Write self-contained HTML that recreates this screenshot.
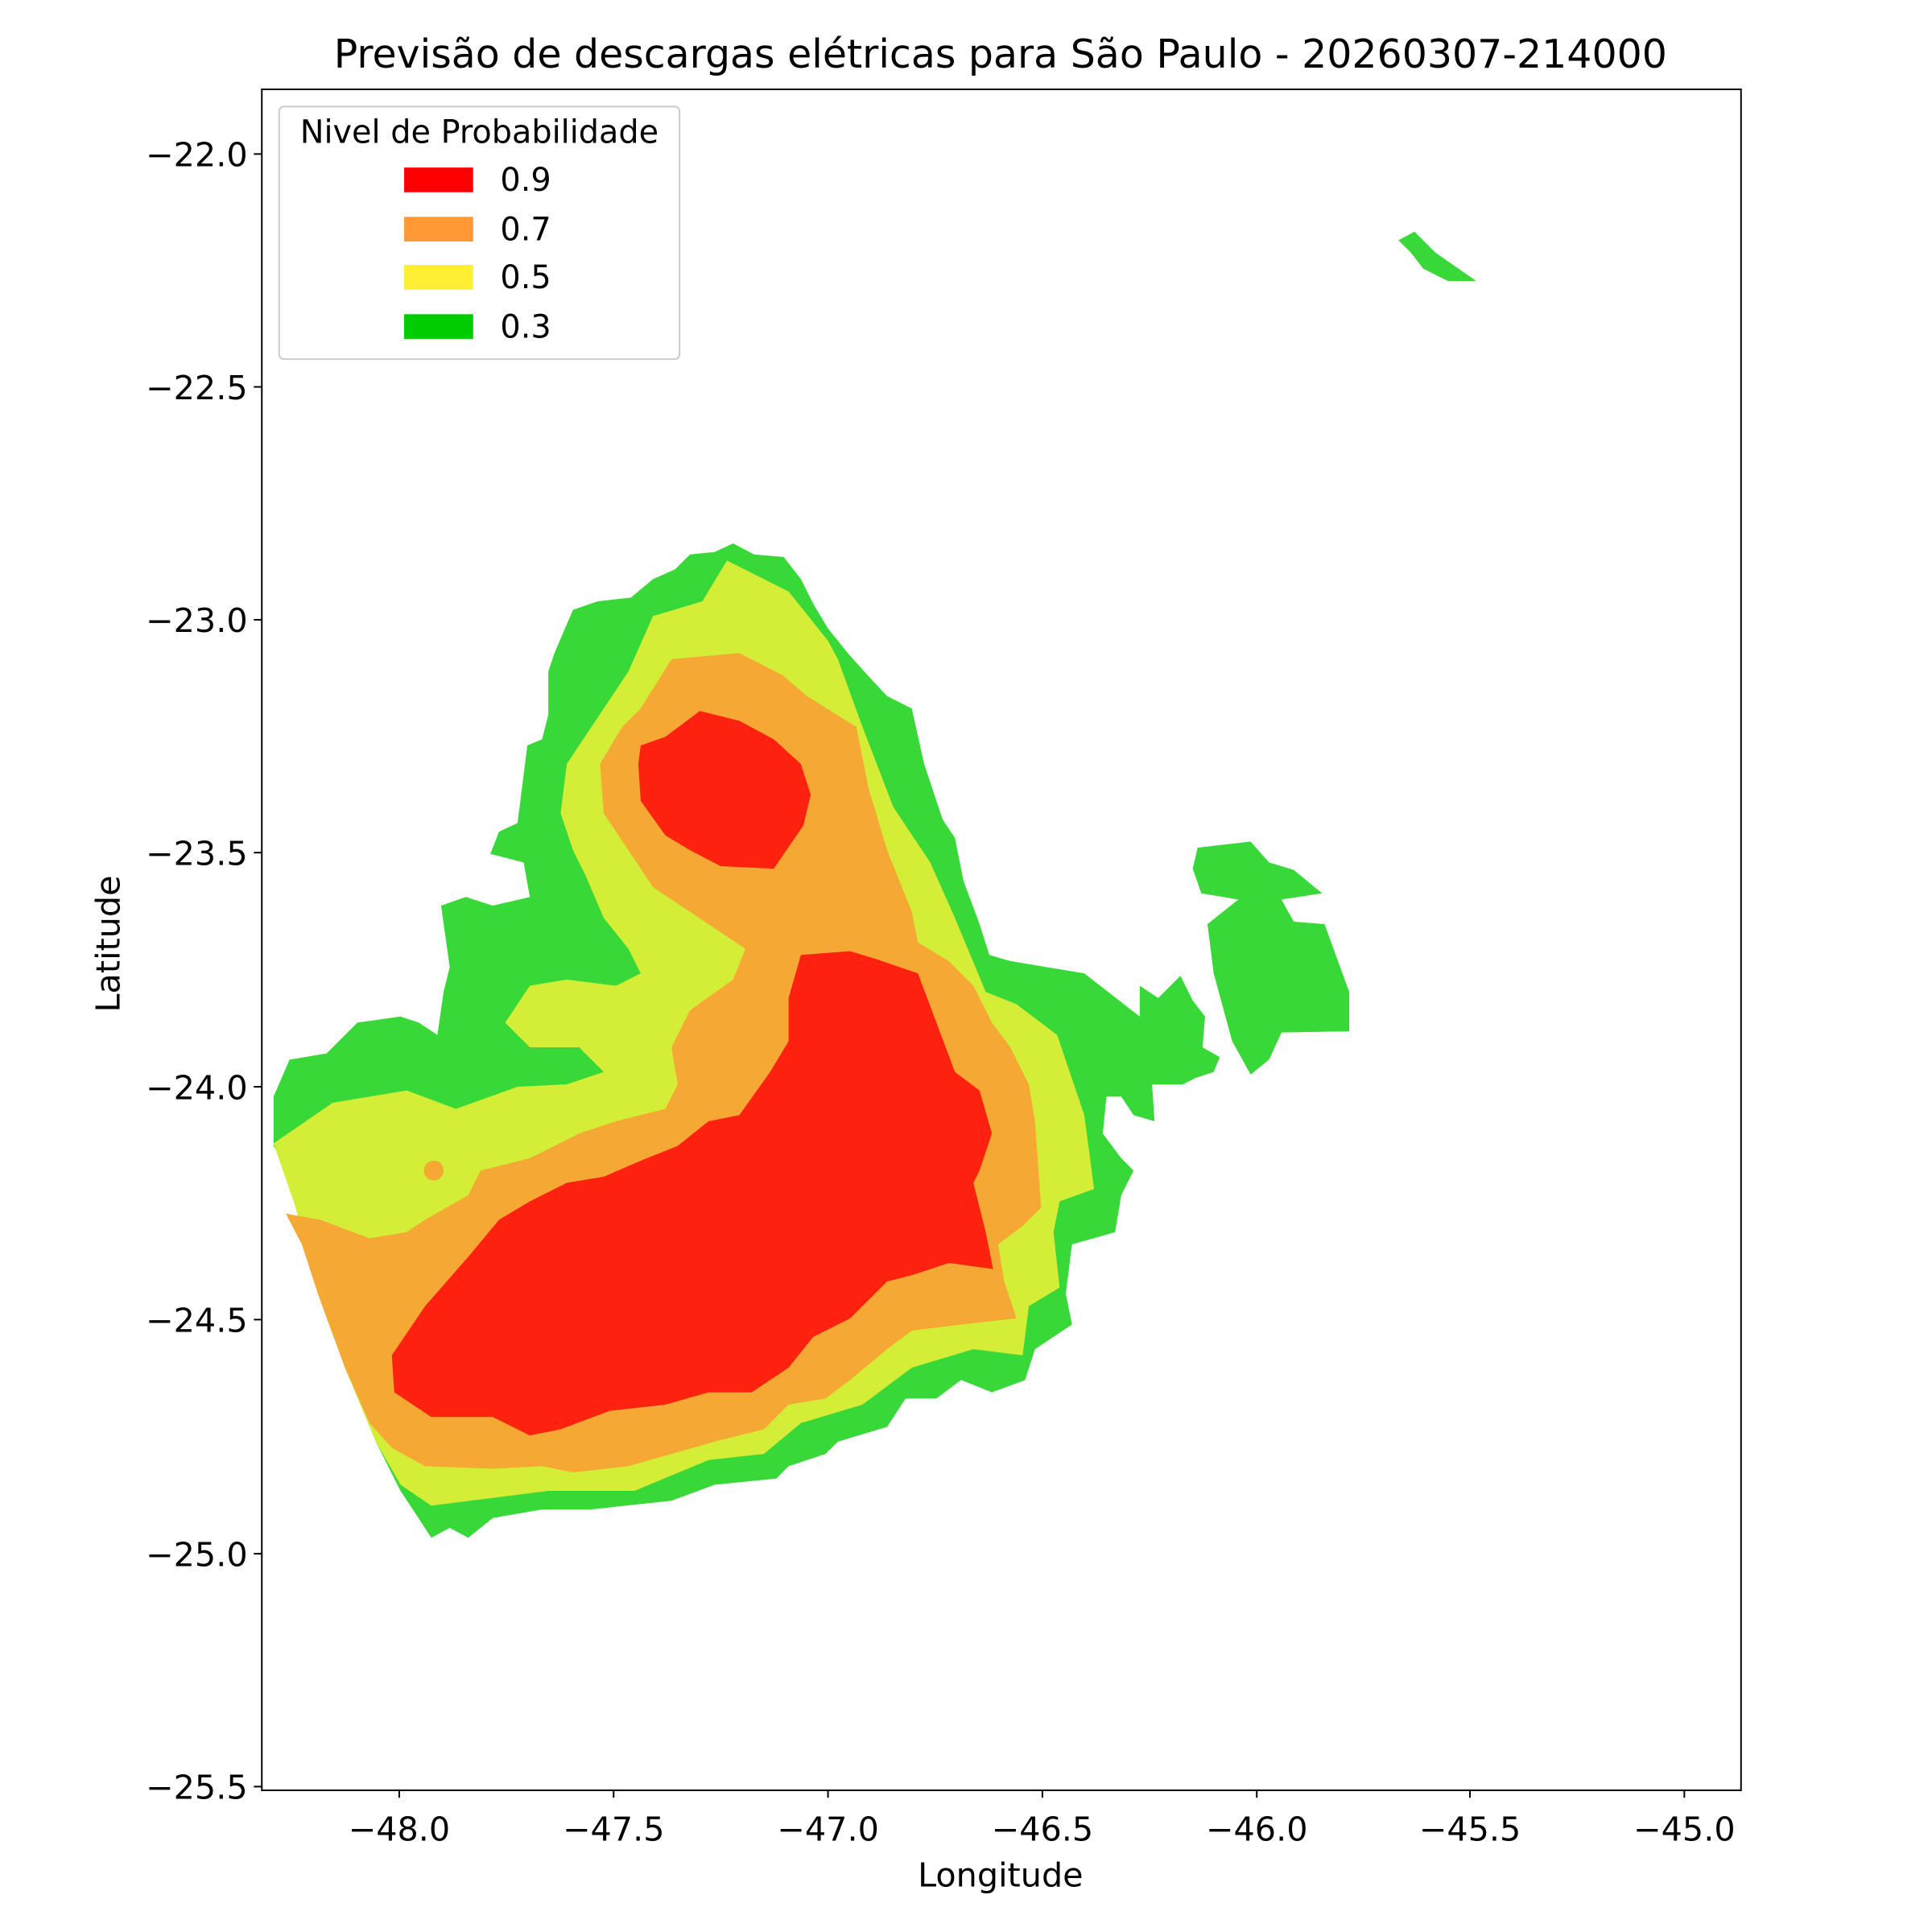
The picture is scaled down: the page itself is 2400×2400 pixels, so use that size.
<!DOCTYPE html>
<html><head><meta charset="utf-8"><style>html,body{margin:0;padding:0;background:#fff}svg{display:block}</style></head>
<body>
<svg width="2400" height="2400" viewBox="0 0 1568 1568" xmlns="http://www.w3.org/2000/svg" font-family="'DejaVu Sans','Liberation Sans',sans-serif">
<rect width="1568" height="1568" fill="#fff"/>
<g stroke-linejoin="miter">
<polygon fill="#38d838" points="595,441 612,450 636,452 650,470 660,490 672,510 688,530 706,550 720,565 740,575 750,620 765,665 775,680 782,715 795,750 803,775 820,780 880,790 925,825 925,800 940,810 958,792 968,812 978,825 976,850 990,858 985,870 970,875 960,880 935,880 937,910 920,905 910,890 898,890 895,920 910,940 920,950 910,970 905,1000 870,1010 865,1050 870,1075 840,1095 832,1120 805,1130 780,1120 760,1135 735,1135 720,1158 680,1170 670,1180 640,1190 630,1200 580,1205 545,1218 480,1225 440,1225 400,1232 380,1248 365,1240 350,1248 335,1225 325,1210 305,1170 280,1110 258,1050 240,980 228,940 222,930 222,890 235,860 265,855 290,830 325,825 340,830 355,840 360,805 365,785 358,735 378,728 400,735 430,728 425,700 398,693 405,675 420,668 428,605 440,600 445,580 445,545 450,530 465,495 485,488 512,485 530,470 548,462 560,450 580,448"/>
<polygon fill="#d4ed36" points="590,455 640,480 672,520 680,535 700,590 725,655 755,700 775,745 800,805 825,815 858,840 880,905 888,965 860,975 855,1000 860,1045 835,1060 830,1100 790,1095 740,1110 700,1140 650,1155 620,1180 575,1185 515,1210 445,1210 350,1222 325,1205 305,1170 280,1110 258,1050 240,980 222,928 270,895 330,885 370,900 420,882 460,880 490,870 470,850 430,850 410,830 430,800 460,795 500,800 520,790 510,770 490,745 475,710 465,690 455,660 460,620 480,590 510,545 530,500 570,488"/>
<polygon fill="#f5a833" points="545,535 600,530 635,548 655,565 695,590 705,640 720,690 740,740 745,765 770,780 790,800 805,830 820,850 835,880 840,910 845,980 830,995 810,1010 815,1040 825,1070 780,1075 740,1080 720,1095 690,1120 670,1135 640,1140 620,1160 580,1170 545,1180 510,1190 465,1195 440,1190 400,1192 345,1190 318,1175 300,1155 280,1110 258,1050 245,1010 232,985 260,990 300,1005 330,1000 345,990 380,970 390,950 430,940 470,920 500,910 540,900 550,880 545,850 560,820 595,795 605,770 590,760 560,740 530,720 510,690 490,660 487,620 505,590 520,575"/>
<circle cx="352" cy="950" r="8" fill="#f5a833"/>
<polygon fill="#ff220f" points="520,605 540,598 568,577 600,585 628,600 650,620 658,645 652,670 628,705 585,703 560,690 540,678 520,650 518,620"/>
<polygon fill="#ff220f" points="650,775 690,772 710,778 745,790 760,830 775,870 795,885 805,920 795,950 790,960 800,1000 806,1030 770,1025 740,1035 720,1040 690,1070 660,1085 640,1110 610,1130 575,1130 540,1140 495,1145 455,1160 430,1165 400,1150 350,1150 320,1130 318,1100 345,1060 380,1020 405,990 430,975 460,960 490,955 520,942 550,930 575,910 600,905 625,870 640,845 640,810"/>
<polygon fill="#38d838" points="972,688 1015,683 1030,700 1050,706 1073,725 1040,730 1050,748 1075,750 1095,805 1095,837 1040,838 1030,860 1015,872 1000,845 985,790 980,750 990,742 1005,730 975,725 968,705"/>
<polygon fill="#38d838" points="1135,195 1148,188 1165,205 1198,228 1175,228 1155,218 1145,205"/>
</g>
<rect x="212.5" y="72.5" width="1200.5" height="1380.5" fill="none" stroke="#000" stroke-width="1.3"/>
<g stroke="#000" stroke-width="1.3">
<line x1="212" y1="125" x2="206" y2="125"/><line x1="212" y1="314" x2="206" y2="314"/><line x1="212" y1="503" x2="206" y2="503"/><line x1="212" y1="692" x2="206" y2="692"/><line x1="212" y1="882" x2="206" y2="882"/><line x1="212" y1="1071" x2="206" y2="1071"/><line x1="212" y1="1261" x2="206" y2="1261"/><line x1="212" y1="1450" x2="206" y2="1450"/>
<line x1="324" y1="1453" x2="324" y2="1459"/><line x1="498" y1="1453" x2="498" y2="1459"/><line x1="672" y1="1453" x2="672" y2="1459"/><line x1="846" y1="1453" x2="846" y2="1459"/><line x1="1020" y1="1453" x2="1020" y2="1459"/><line x1="1193" y1="1453" x2="1193" y2="1459"/><line x1="1367" y1="1453" x2="1367" y2="1459"/>
</g>
<g font-size="27" fill="#000" text-anchor="end">
<text x="201" y="135">−22.0</text><text x="201" y="324">−22.5</text><text x="201" y="513">−23.0</text><text x="201" y="702">−23.5</text><text x="201" y="892">−24.0</text><text x="201" y="1081">−24.5</text><text x="201" y="1271">−25.0</text><text x="201" y="1460">−25.5</text>
</g>
<g font-size="27" fill="#000" text-anchor="middle">
<text x="324" y="1494">−48.0</text><text x="498" y="1494">−47.5</text><text x="672" y="1494">−47.0</text><text x="846" y="1494">−46.5</text><text x="1020" y="1494">−46.0</text><text x="1193" y="1494">−45.5</text><text x="1367" y="1494">−45.0</text>
<text x="812" y="1531">Longitude</text>
<text x="812" y="55" font-size="32">Previsão de descargas elétricas para São Paulo - 20260307-214000</text>
<text transform="translate(97,766) rotate(-90)">Latitude</text>
</g>
<rect x="226.5" y="86.5" width="325" height="205" rx="4" fill="#fff" fill-opacity="0.85" stroke="#ccc" stroke-width="1.3"/>
<text x="389" y="116" font-size="26" text-anchor="middle">Nivel de Probabilidade</text>
<rect x="328" y="136" width="56" height="20" fill="#ff0000"/>
<rect x="328" y="176" width="56" height="20" fill="#ff9933"/>
<rect x="328" y="215" width="56" height="20" fill="#ffee33"/>
<rect x="328" y="255" width="56" height="20" fill="#00cc00"/>
<g font-size="26"><text x="406" y="155">0.9</text><text x="406" y="195">0.7</text><text x="406" y="234">0.5</text><text x="406" y="274">0.3</text></g>
</svg>
</body></html>
